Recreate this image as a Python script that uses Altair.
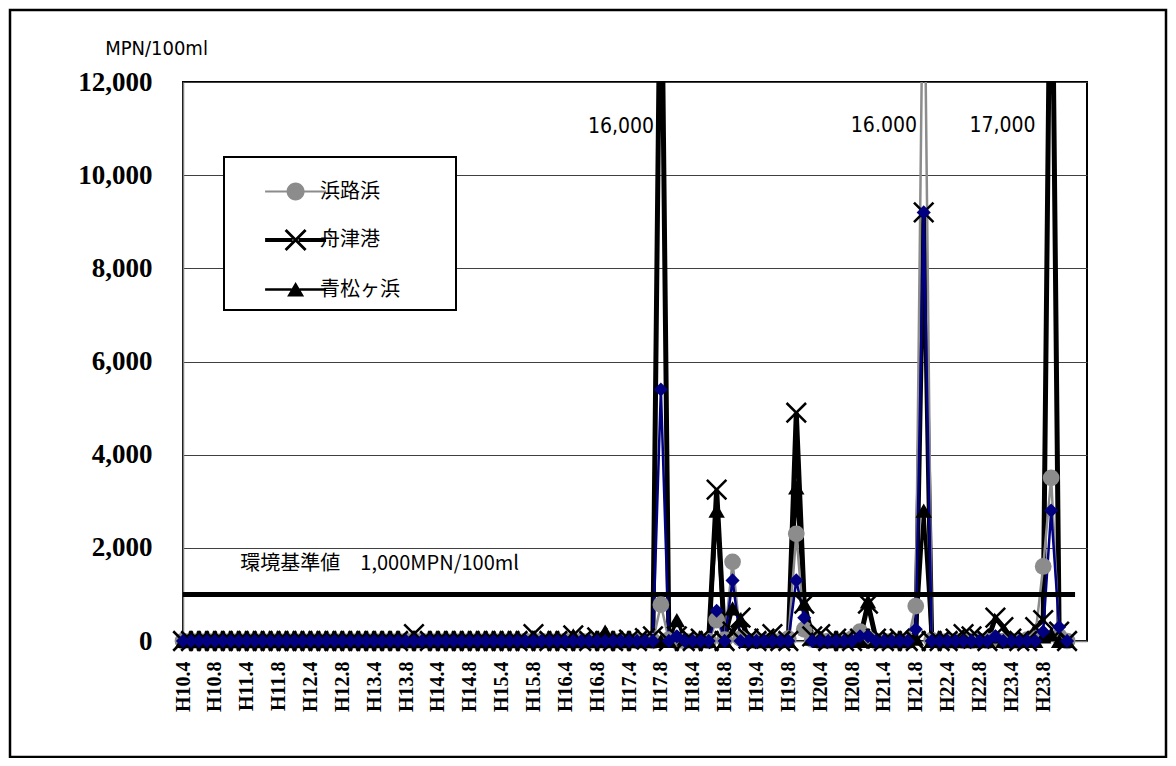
import altair as alt
import pandas as pd

# ---------------- data ----------------
tick_labels = ["H10.4", "H10.8", "H11.4", "H11.8", "H12.4", "H12.8", "H13.4", "H13.8",
               "H14.4", "H14.8", "H15.4", "H15.8", "H16.4", "H16.8", "H17.4", "H17.8",
               "H18.4", "H18.8", "H19.4", "H19.8", "H20.4", "H20.8", "H21.4", "H21.8",
               "H22.4", "H22.8", "H23.4", "H23.8"]
samples_per_label = 4

# one row = one fiscal year (8 samples), MPN/100ml
hamajihama = [
    0, 0, 0, 0, 0, 0, 0, 0,
    0, 0, 0, 0, 0, 0, 0, 0,
    0, 0, 0, 0, 0, 0, 0, 0,
    0, 0, 0, 0, 0, 0, 0, 0,
    0, 0, 0, 0, 0, 0, 0, 0,
    0, 0, 0, 0, 0, 0, 0, 0,
    0, 0, 0, 0, 0, 0, 0, 0,
    0, 0, 0, 0, 780, 30, 0, 0,
    0, 0, 0, 450, 30, 1700, 50, 0,
    0, 0, 0, 0, 50, 2300, 250, 30,
    0, 0, 0, 0, 50, 200, 50, 0,
    0, 0, 0, 0, 750, 16000, 20, 0,
    0, 0, 0, 0, 0, 0, 30, 0,
    0, 0, 30, 100, 1600, 3500, 100, 0,
]
funatsu = [
    0, 0, 0, 0, 0, 0, 0, 0,
    0, 0, 0, 0, 0, 0, 0, 0,
    0, 0, 0, 0, 0, 0, 0, 0,
    0, 0, 0, 0, 0, 150, 0, 0,
    0, 0, 0, 0, 0, 0, 0, 0,
    0, 0, 0, 0, 150, 0, 0, 0,
    0, 120, 0, 0, 80, 0, 0, 0,
    30, 0, 60, 100, 16000, 0, 100, 0,
    0, 50, 0, 3250, 0, 200, 500, 50,
    0, 50, 150, 0, 0, 4900, 800, 100,
    150, 0, 50, 0, 0, 50, 800, 50,
    0, 0, 50, 0, 0, 9200, 0, 0,
    0, 50, 150, 100, 50, 0, 500, 300,
    50, 0, 0, 300, 450, 17000, 200, 0,
]
aomatsugahama = [
    0, 0, 0, 0, 0, 0, 0, 0,
    0, 0, 0, 0, 0, 0, 0, 0,
    0, 0, 0, 0, 0, 0, 0, 0,
    0, 0, 0, 0, 0, 0, 0, 0,
    0, 0, 0, 0, 0, 0, 0, 0,
    0, 0, 0, 0, 0, 0, 0, 0,
    0, 120, 0, 0, 0, 200, 0, 0,
    0, 0, 50, 0, 0, 0, 450, 50,
    0, 0, 0, 2800, 0, 700, 450, 0,
    0, 0, 50, 0, 0, 3300, 800, 50,
    0, 0, 0, 0, 0, 0, 850, 0,
    0, 0, 0, 0, 50, 2800, 0, 0,
    0, 0, 0, 0, 0, 0, 100, 0,
    0, 0, 0, 0, 100, 150, 0, 0,
]
series4 = [
    0, 0, 0, 0, 0, 0, 0, 0,
    0, 0, 0, 0, 0, 0, 0, 0,
    0, 0, 0, 0, 0, 0, 0, 0,
    0, 0, 0, 0, 0, 0, 0, 0,
    0, 0, 0, 0, 0, 0, 0, 0,
    0, 0, 0, 0, 0, 0, 0, 0,
    0, 0, 0, 0, 0, 0, 0, 0,
    0, 0, 0, 0, 5400, 0, 100, 0,
    0, 0, 0, 650, 0, 1300, 0, 0,
    0, 0, 0, 0, 0, 1300, 500, 0,
    0, 0, 0, 0, 0, 100, 100, 0,
    0, 0, 0, 0, 250, 9200, 0, 0,
    0, 0, 0, 0, 0, 0, 100, 0,
    0, 0, 0, 0, 200, 2800, 300, 0,
]

standard_idx = [0, 112]
standard_val = [1000, 1000]
standard_text = ["環境基準値　1,000MPN/100ml"]
standard_text_idx = [7.2]
standard_text_val = [1650]

peak_text = ["16,000", "16.000", "17,000"]
peak_text_idx = [55.0, 88.0, 102.9]
peak_text_val = [11030, 11060, 11060]

legend_names = ["浜路浜", "舟津港", "青松ヶ浜"]

NARROW = "DejaVu Sans Condensed, Liberation Sans Narrow, Noto Sans, sans-serif"

# ---------------- tables ----------------
series_map = {"浜路浜": hamajihama, "舟津港": funatsu, "青松ヶ浜": aomatsugahama, "系列4": series4}
rows = []
for name, vals in series_map.items():
    for i, v in enumerate(vals):
        rows.append({"series": name, "idx": i, "v": v})
df = pd.DataFrame(rows)
std_df = pd.DataFrame({"idx": standard_idx, "v": standard_val})
std_txt_df = pd.DataFrame({"idx": standard_text_idx, "v": standard_text_val, "t": standard_text})
peak_df = pd.DataFrame({"idx": peak_text_idx, "v": peak_text_val, "t": peak_text})
leg_df = pd.DataFrame({"series": legend_names, "idx": [0] * 3, "v": [0] * 3})
frame_df = pd.DataFrame({"k": [0]})

tick_positions = [i * samples_per_label for i in range(len(tick_labels))]
label_js = "[" + ",".join("'" + s + "'" for s in tick_labels) + "]"

x_enc = alt.X(
    "idx:Q",
    scale=alt.Scale(domain=[0, 113.5], nice=False, zero=False),
    axis=alt.Axis(
        values=tick_positions,
        labelExpr=label_js + "[round(datum.value/" + str(samples_per_label) + ")]",
        labelAngle=270, labelFont="Liberation Serif", labelFontWeight="bold",
        labelFontSize=20, labelColor="black", labelPadding=20, labelOverlap=False,
        ticks=False, grid=False, domainColor="#808080", domainWidth=1.5,
    ),
    title=None,
)
y_enc = alt.Y(
    "v:Q",
    scale=alt.Scale(domain=[0, 12000], nice=False),
    axis=alt.Axis(
        values=[0, 2000, 4000, 6000, 8000, 10000, 12000], format=",d",
        labelFont="Liberation Serif", labelFontWeight="bold", labelFontSize=27,
        labelColor="black", labelPadding=31, ticks=False,
        grid=True, gridColor="#404040", gridWidth=1,
        domainColor="#808080", domainWidth=1.5,
        titleAngle=0, titleX=-27, titleY=-34, titleAlign="center", titleBaseline="middle",
        titleFont=NARROW, titleFontSize=20, titleFontWeight="normal",
        titleColor="black",
    ),
    title="MPN/100ml",
)


def sel(name):
    return alt.Chart(df).transform_filter(alt.datum.series == name)


def line(name, color, width):
    return sel(name).mark_line(color=color, strokeWidth=width, clip=True).encode(x=x_enc, y=y_enc)


def pts(name, **kw):
    return sel(name).transform_filter(alt.datum.v <= 12000).mark_point(**kw).encode(x=x_enc, y=y_enc)


X_PATH = "M-1,-1L1,1M-1,1L1,-1"

lines = [
    line("舟津港", "black", 5),
    line("青松ヶ浜", "black", 3.5),
    line("浜路浜", "#8c8c8c", 2.5),
    line("系列4", "#000080", 2.5),
]
std_line = alt.Chart(std_df).mark_line(color="black", strokeWidth=5).encode(x=x_enc, y=y_enc)
markers = [
    pts("浜路浜", shape="circle", filled=True, color="#8c8c8c", size=280, opacity=1),
    pts("青松ヶ浜", shape="triangle-up", filled=True, color="black", size=270, opacity=1),
    pts("舟津港", shape=X_PATH, filled=False, color="black", size=380, strokeWidth=2.5, opacity=1),
    pts("系列4", shape="diamond", filled=True, color="#000080", size=200, opacity=1),
]

std_label = alt.Chart(std_txt_df).mark_text(
    align="left", baseline="middle", font="Noto Sans CJK JP", fontSize=20, color="black"
).encode(x=x_enc, y=y_enc, text="t:N")
peak_labels = alt.Chart(peak_df).mark_text(
    align="center", baseline="middle", font=NARROW, fontSize=21, color="black"
).encode(x=x_enc, y=y_enc, text="t:N")

# legend symbols: line + marker drawn as one custom shape
SYM = 49.0          # symbol box in px
U = SYM / 2.0       # path unit in px


def p(v):
    return str(round(v / U, 4))


def seg_pair(half_len, half_th, gap):
    return ("M" + p(-half_len) + "," + p(-half_th) + "H" + p(-gap) + "V" + p(half_th) + "H" + p(-half_len) + "Z "
            "M" + p(gap) + "," + p(-half_th) + "H" + p(half_len) + "V" + p(half_th) + "H" + p(gap) + "Z ")


r = 9.0
gray_path = seg_pair(30.5, 1.0, 8.0) + (
    "M" + p(-r) + ",0A" + p(r) + "," + p(r) + " 0 1 1 " + p(r) + ",0A" + p(r) + "," + p(r) + " 0 1 1 " + p(-r) + ",0Z")
a, e = 11.0, 2.0
x_pts = [(-a + e, -a), (0, -e), (a - e, -a), (a, -a + e), (e, 0), (a, a - e), (a - e, a), (0, e),
         (-a + e, a), (-a, a - e), (-e, 0), (-a, -a + e)]
x_poly = "M" + "L".join(p(px) + "," + p(py) for px, py in x_pts) + "Z"
black_x_path = seg_pair(30.5, 2.0, 3.0) + x_poly
tri_path = seg_pair(30.5, 1.35, 4.0) + "M0," + p(-7.5) + "L" + p(8.5) + "," + p(7.0) + "L" + p(-8.5) + "," + p(7.0) + "Z"
legend_paths = [gray_path, black_x_path, tri_path]

LEG_PAD = 10
LEG_X = 41
leg = alt.Legend(
    title=None,
    orient="none", legendX=LEG_X, legendY=75,
    fillColor="white", strokeColor="black", padding=LEG_PAD,
    symbolSize=SYM * SYM, symbolStrokeWidth=0,
    symbolOffset=112.6 - LEG_X - LEG_PAD - SYM / 2, symbolOpacity=1,
    labelOffset=0, rowPadding=13.5,
    labelFont="Noto Sans CJK JP", labelFontSize=20, labelColor="black", labelLimit=400,
    labelExpr="datum.label + '\u2800\u2800\u2800'",
)
legend_layer = alt.Chart(leg_df).mark_point(filled=True, opacity=0).encode(
    x=x_enc, y=y_enc,
    color=alt.Color("series:N", scale=alt.Scale(domain=legend_names, range=["#8c8c8c", "black", "black"]), legend=leg),
    shape=alt.Shape("series:N", scale=alt.Scale(domain=legend_names, range=legend_paths), legend=leg),
)

frame = alt.Chart(frame_df).mark_rect(fillOpacity=0, stroke="black", strokeWidth=2.5).encode(
    x=alt.value(-173), x2=alt.value(983), y=alt.value(-72), y2=alt.value(675)
)

chart = alt.layer(
    *lines, std_line, *markers, std_label, peak_labels, legend_layer, frame
).properties(
    width=904, height=559,
    padding={"left": 175, "top": 74, "right": 81, "bottom": 117},
    autosize=alt.AutoSizeParams(type="none"),
    background="white",
).configure_view(stroke="black", strokeWidth=2).configure_legend(strokeWidth=2)

chart.save("out.html", embed_options={"renderer": "svg", "actions": False})
